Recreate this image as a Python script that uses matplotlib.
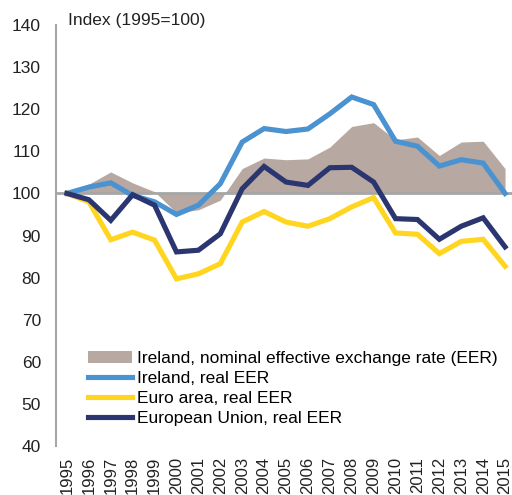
import matplotlib.pyplot as plt
from matplotlib.patches import Patch
from matplotlib.lines import Line2D

plt.rcParams['font.family'] = ['Liberation Sans', 'DejaVu Sans']

years = list(range(1995, 2016))
ireland_nominal = [100, 102.2, 105.1, 102.5, 100.4, 95.4, 96.1, 98.4, 105.9, 108.4, 108.0,
                   108.2, 111.0, 115.9, 116.8, 112.7, 113.4, 109.0, 112.2, 112.4, 105.9]
ireland_real = [100, 101.5, 102.5, 99.5, 98.0, 95.0, 97.2, 102.3, 112.2, 115.4, 114.7,
                115.3, 118.9, 122.9, 121.1, 112.4, 111.2, 106.5, 108.0, 107.2, 100.0]
euro_real = [100, 98.0, 89.0, 90.8, 88.9, 79.7, 80.9, 83.3, 93.2, 95.7, 93.2,
             92.2, 94.0, 96.8, 99.0, 90.6, 90.3, 85.7, 88.6, 89.1, 82.7]
eu_real = [100, 98.5, 93.6, 99.7, 97.2, 86.1, 86.5, 90.4, 101.1, 106.4, 102.7,
           101.9, 106.1, 106.2, 102.7, 94.0, 93.8, 89.1, 92.2, 94.2, 87.3]

labels = ['Ireland, nominal effective exchange rate (EER)', 'Ireland, real EER',
          'Euro area, real EER', 'European Union, real EER']

c_brown = '#B7A8A1'
c_blue = '#4A92D0'
c_yellow = '#FFD520'
c_navy = '#2B3570'
c_grey = '#A6A6A6'
fs = 12.5

fig = plt.figure(figsize=(5.12, 4.95), dpi=100)
ax = fig.add_axes([56 / 512, 49 / 495, 460 / 512, 421 / 495])

ax.fill_between(years, ireland_nominal, 100, color=c_brown, lw=0, zorder=1)
ax.axhline(100, color=c_grey, lw=2, zorder=2)
ax.plot(years, ireland_real, color=c_blue, lw=3.7, zorder=3, solid_joinstyle='miter')
ax.plot(years, euro_real, color=c_yellow, lw=3.7, zorder=4, solid_joinstyle='miter')
ax.plot(years, eu_real, color=c_navy, lw=3.7, zorder=5, solid_joinstyle='miter')

ax.set_xlim(1994.5, 2015.5)
ax.set_ylim(40, 140)
ax.set_yticks(range(40, 141, 10))
ax.set_xticks(years)
ax.set_xticklabels([str(y) for y in years], rotation=90)
ax.tick_params(axis='both', length=0, labelsize=fs, colors='#222222')
ax.tick_params(axis='y', pad=10.8)
ax.tick_params(axis='x', pad=7.8, labelsize=12)
for s in ['top', 'right', 'bottom']:
    ax.spines[s].set_visible(False)
ax.spines['left'].set_color(c_grey)
ax.spines['left'].set_linewidth(1.5)

fig.text(68 / 512, 1 - 21 / 495, 'Index (1995=100)', fontsize=fs, va='center', ha='left',
         color='#222222')

handles = [Patch(facecolor=c_brown, edgecolor='none'),
           Line2D([], [], color=c_blue, lw=3.7),
           Line2D([], [], color=c_yellow, lw=3.7),
           Line2D([], [], color=c_navy, lw=3.7)]
ax.legend(handles, labels, loc='upper left', bbox_to_anchor=(88 / 512, 1 - 351 / 495),
          bbox_transform=fig.transFigure, frameon=False, fontsize=fs,
          handlelength=2.55, handletextpad=0.3, labelspacing=0.27,
          borderpad=0, borderaxespad=0)

fig.savefig('out.png', dpi=100)
